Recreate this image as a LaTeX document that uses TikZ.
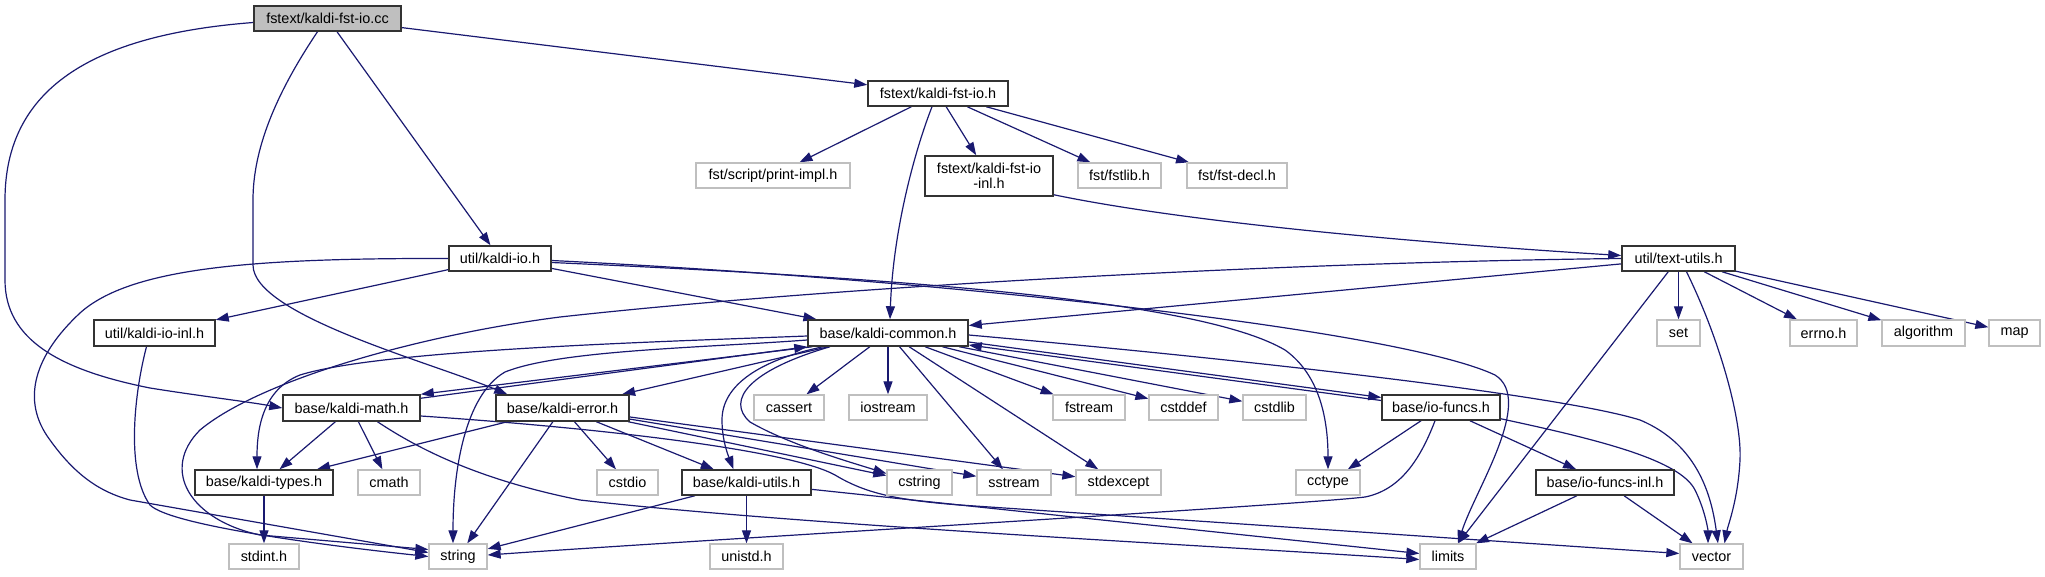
\documentclass[tikz,border=0pt]{standalone}
\usepackage{fontspec}
\setmainfont{Liberation Sans}
\usetikzlibrary{arrows.meta}
\definecolor{edgeblue}{HTML}{191970}
\definecolor{extgray}{HTML}{BFBFBF}
\definecolor{maingray}{HTML}{BFBFBF}
\definecolor{docborder}{HTML}{333333}
\pgfdeclarelayer{edgelayer}
\pgfsetlayers{edgelayer,main}
\begin{document}
\begin{tikzpicture}[x=1pt,y=-1pt,
  box/.style={rectangle, inner sep=0pt, minimum height=25pt, align=center,
    font=\fontsize{14.4}{15}\selectfont, text=black},
  doc/.style={box, draw=docborder, line width=1.5pt, fill=white},
  mainfile/.style={box, draw=docborder, line width=1.5pt, fill=maingray},
  ext/.style={box, draw=extgray, line width=1.3pt, fill=white},
  e/.style={draw=edgeblue, line width=1.2pt, -{Triangle[length=13pt,width=9pt]}}]
\path[use as bounding box] (0,0) rectangle (2045,576);

% nodes
\node[mainfile, minimum width=147pt] (cc) at (327.5,18.5) {fstext/kaldi-fst-io.cc};
\node[doc, minimum width=140pt] (fio) at (938,93.5) {fstext/kaldi-fst-io.h};
\node[ext, minimum width=154pt] (pimpl) at (773,175.5) {fst/script/print-impl.h};
\node[doc, minimum width=128pt, minimum height=40pt] (finl) at (989,176) {fstext/kaldi-fst-io\\-inl.h};
\node[ext, minimum width=83pt] (fstlib) at (1119.5,175.5) {fst/fstlib.h};
\node[ext, minimum width=100pt] (fdecl) at (1237,175.5) {fst/fst-decl.h};
\node[doc, minimum width=102pt] (kio) at (500,258.5) {util/kaldi-io.h};
\node[doc, minimum width=113pt] (tu) at (1678.5,258.5) {util/text-utils.h};
\node[doc, minimum width=121pt, minimum height=26pt] (kioinl) at (154.5,333) {util/kaldi-io-inl.h};
\node[doc, minimum width=160pt, minimum height=26pt] (common) at (888,333) {base/kaldi-common.h};
\node[ext, minimum width=43pt, minimum height=26pt] (hset) at (1678.5,333) {set};
\node[ext, minimum width=67pt, minimum height=26pt] (herrno) at (1823.5,333) {errno.h};
\node[ext, minimum width=83pt, minimum height=26pt] (halgo) at (1923.5,333) {algorithm};
\node[ext, minimum width=51pt, minimum height=26pt] (hmap) at (2014.5,333) {map};
\node[doc, minimum width=137pt, minimum height=26pt] (math) at (351.5,408) {base/kaldi-math.h};
\node[doc, minimum width=133pt, minimum height=26pt] (error) at (562.5,408) {base/kaldi-error.h};
\node[ext, minimum width=70pt] (cassert) at (789,407.5) {cassert};
\node[ext, minimum width=78pt] (iostream) at (888,407.5) {iostream};
\node[ext, minimum width=72pt] (fstream) at (1089,407.5) {fstream};
\node[ext, minimum width=69pt] (cstddef) at (1183.5,407.5) {cstddef};
\node[ext, minimum width=63pt] (cstdlib) at (1274.5,407.5) {cstdlib};
\node[doc, minimum width=118pt] (iofuncs) at (1441,407.5) {base/io-funcs.h};
\node[doc, minimum width=138pt] (types) at (264,482.5) {base/kaldi-types.h};
\node[ext, minimum width=62pt] (cmath) at (389,482.5) {cmath};
\node[ext, minimum width=61pt] (cstdio) at (627.5,482.5) {cstdio};
\node[doc, minimum width=129pt] (utils) at (746.5,482.5) {base/kaldi-utils.h};
\node[ext, minimum width=65pt] (cstring) at (919.5,482.5) {cstring};
\node[ext, minimum width=74pt] (sstream) at (1014,482.5) {sstream};
\node[ext, minimum width=85pt] (stdexcept) at (1118.5,482.5) {stdexcept};
\node[ext, minimum width=64pt] (cctype) at (1328,482.5) {cctype};
\node[doc, minimum width=138pt] (iofinl) at (1605,482.5) {base/io-funcs-inl.h};
\node[ext, minimum width=70pt] (stdint) at (264,556.5) {stdint.h};
\node[ext, minimum width=58pt] (string) at (458,556.5) {string};
\node[ext, minimum width=73pt] (unistd) at (746.5,556.5) {unistd.h};
\node[ext, minimum width=56pt] (limits) at (1448,556.5) {limits};
\node[ext, minimum width=63pt] (vector) at (1711.5,556.5) {vector};

\begin{pgfonlayer}{edgelayer}
% from fstext/kaldi-fst-io.cc
\draw[e] (cc) -- (fio);
\draw[e] (cc) -- (kio);
\draw[e] ([yshift=-4pt]cc.west) .. controls (90,35) and (5,90) .. (5,200) -- (5,280)
  .. controls (5,340) and (60,370) .. (150,388) .. controls (200,396) and (250,402) .. (math.west);
\draw[e] ([xshift=-10pt]cc.south) .. controls (275,95) and (253,150) .. (253,200) -- (253,265)
  .. controls (253,315) and (430,362) .. ([xshift=12pt]error.north west);
% from fstext/kaldi-fst-io.h
\draw[e] (fio) -- (pimpl);
\draw[e] ([xshift=-6pt]fio.south) .. controls (915,150) and (893,230) .. ([xshift=2pt]common.north);
\draw[e] (fio) -- (finl);
\draw[e] (fio) -- (fstlib);
\draw[e] (fio) -- (fdecl);
% from fstext/kaldi-fst-io-inl.h
\draw[e] ([yshift=2pt]finl.south east) .. controls (1200,225) and (1450,245) .. ([yshift=3pt]tu.west);
% from util/kaldi-io.h
\draw[e] (kio) -- (kioinl);
\draw[e] (kio) -- (common);
\draw[e] (kio.west) .. controls (250,258) and (130,268) .. (80,313)
  .. controls (35,355) and (20,400) .. (50,440) .. controls (75,475) and (100,492) .. (130,500)
  -- ([yshift=4pt]string.west);
\draw[e] ([yshift=-2pt]kio.east) .. controls (950,280) and (1400,330) .. (1495,375)
  .. controls (1535,400) and (1475,490) .. ([xshift=10pt]limits.north);
\draw[e] ([yshift=-4pt]kio.east) .. controls (900,278) and (1200,300) .. (1285,350)
  .. controls (1320,375) and (1328,420) .. (cctype.north);
% from util/kaldi-io-inl.h
\draw[e] ([xshift=-8pt]kioinl.south) .. controls (135,390) and (125,470) .. (150,505)
  .. controls (170,525) and (320,545) .. (string.west);
% from util/text-utils.h
\draw[e] (tu) -- (common);
\draw[e] (tu) -- (hset);
\draw[e] (tu) -- (herrno);
\draw[e] (tu) -- (halgo);
\draw[e] (tu) -- (hmap);
\draw[e] (tu) -- (limits);
\draw[e] ([xshift=8pt]tu.south) .. controls (1720,340) and (1742,420) .. (1740,460)
  .. controls (1738,500) and (1728,525) .. ([xshift=13pt]vector.north);
\draw[e] (tu.west) .. controls (1300,262) and (850,285) .. (560,317)
  .. controls (420,335) and (260,380) .. (200,430) .. controls (160,470) and (190,520) .. (260,535)
  -- ([yshift=7pt]string.west);
% from base/kaldi-common.h
\draw[e] ([xshift=5pt]common.south west) -- (math.north east);
\draw[e] (common) -- (error);
\draw[e] ([yshift=-3pt]common.west) .. controls (650,342) and (380,350) .. (300,375)
  .. controls (262,390) and (257,430) .. ([xshift=-7pt]types.north);
\draw[e] ([yshift=-7pt]common.west) .. controls (700,348) and (560,350) .. (505,372)
  .. controls (465,395) and (453,470) .. ([xshift=-5pt]string.north);
\draw[e] ([xshift=-65pt]common.south) .. controls (760,360) and (722,385) .. (722,420)
  .. controls (722,440) and (728,455) .. ([xshift=-13pt]utils.north);
\draw[e] ([xshift=-58pt]common.south) .. controls (750,370) and (725,400) .. (750,422)
  .. controls (790,445) and (850,462) .. ([yshift=9pt]cstring.west);
\draw[e] (common) -- (cassert);
\draw[e] (common) -- (iostream);
\draw[e] (common) -- (sstream);
\draw[e] (common) -- (stdexcept);
\draw[e] (common) -- (fstream);
\draw[e] (common) -- (cstddef);
\draw[e] (common) -- (cstdlib);
\draw[e] ([yshift=-9pt]common.east) -- ([yshift=10pt]iofuncs.west);
\draw[e] ([yshift=-2pt]common.east) .. controls (1250,360) and (1560,395) .. (1640,420)
  .. controls (1700,445) and (1712,500) .. ([xshift=6.5pt]vector.north);
% from base/kaldi-math.h
\draw[e] ([yshift=-4pt]math.north east) -- (common.south west);
\draw[e] (math) -- (types);
\draw[e] (math) -- (cmath);
\draw[e] ([xshift=26pt]math.south) .. controls (420,450) and (480,480) .. (580,500)
  .. controls (800,525) and (1200,545) .. ([yshift=-3pt]limits.west);
\draw[e] ([yshift=-8pt]math.east) .. controls (600,428) and (790,450) .. (835,475)
  .. controls (865,493) and (895,500) .. (960,505) -- ([yshift=3pt]vector.west);
% from base/kaldi-error.h
\draw[e] (error) -- (types);
\draw[e] (error) -- (string);
\draw[e] (error) -- (cstdio);
\draw[e] (error) -- (utils);
\draw[e] (error) -- (cstring);
\draw[e] (error) -- (sstream);
\draw[e] (error) -- (stdexcept);
% from base/kaldi-types.h
\draw[e] (types) -- (stdint);
% from base/kaldi-utils.h
\draw[e] (utils) -- (string);
\draw[e] (utils) -- (unistd);
\draw[e] (utils) -- (limits);
% from base/io-funcs.h
\draw[e] ([yshift=7pt]iofuncs.west) -- ([yshift=-12pt]common.east);
\draw[e] (iofuncs) -- (cctype);
\draw[e] (iofuncs) -- (iofinl);
\draw[e] ([xshift=-6pt]iofuncs.south) .. controls (1420,460) and (1400,490) .. (1365,497)
  .. controls (1300,505) and (700,540) .. ([yshift=1.5pt]string.east);
\draw[e] ([yshift=2pt]iofuncs.south east) .. controls (1600,440) and (1680,460) .. (1695,490)
  .. controls (1705,510) and (1708,530) .. ([xshift=-3.5pt]vector.north);
% from base/io-funcs-inl.h
\draw[e] (iofinl) -- (limits);
\draw[e] (iofinl) -- (vector);
\end{pgfonlayer}
\end{tikzpicture}
\end{document}
